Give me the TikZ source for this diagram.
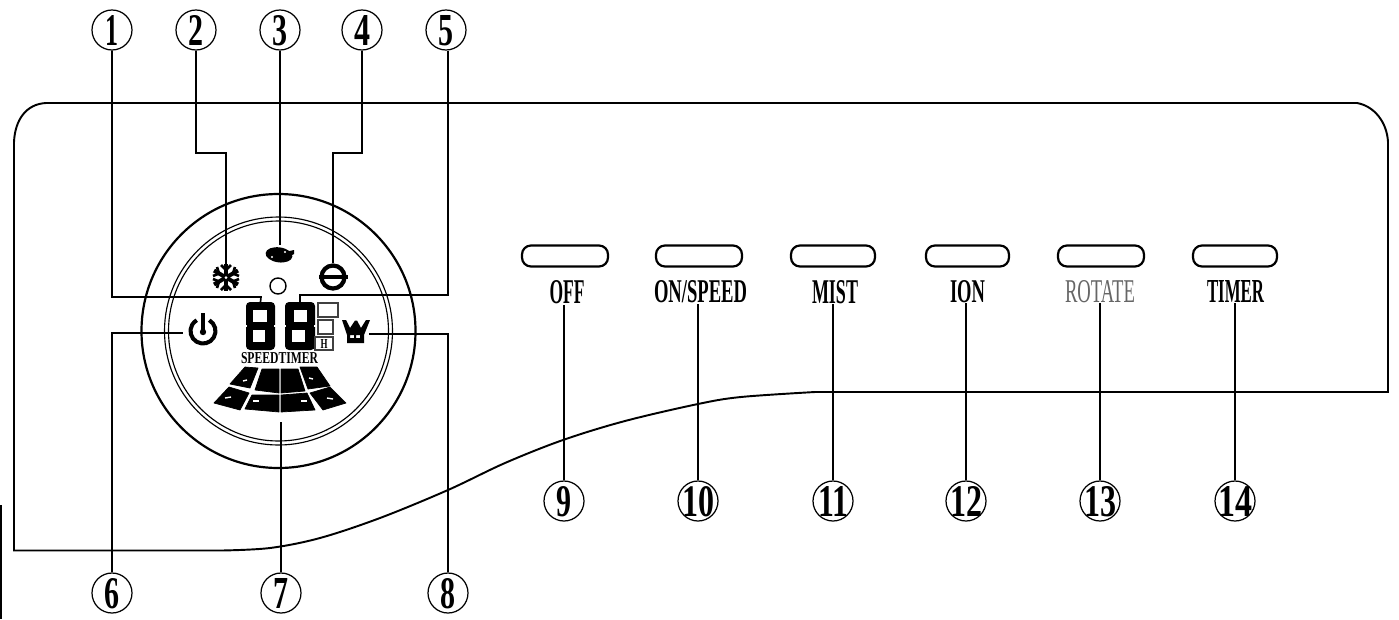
\documentclass[tikz,border=0pt]{standalone}
\usepackage{fontspec}
\setmainfont{Liberation Serif}
\usetikzlibrary{calc}
\newlength\pxu
\setlength\pxu{0.02cm}
\newcommand{\fitb}[3]{\resizebox{#1\pxu}{#2\pxu}{\bfseries #3}}
\newcommand{\fitr}[3]{\resizebox{#1\pxu}{#2\pxu}{#3}}
\newcommand{\cnum}[2]{\makebox[0pt][c]{\raisebox{-15\pxu}[0pt][0pt]{\resizebox{#1\pxu}{30\pxu}{\bfseries #2}}}}
\tikzset{
  panel/.style={line width=1.1pt,line join=miter},
  leader/.style={line width=0.95pt},
  numc/.style={circle,draw,line width=0.7pt,minimum size=40\pxu,inner sep=0pt},
  btn/.style={draw,line width=1.25pt,rounded corners=9\pxu,minimum height=21\pxu,inner sep=0pt},
  lbl/.style={inner sep=0pt},
  ghost/.style={inner sep=0pt,outer sep=0pt},
  seg/.style={rectangle,fill=black,rounded corners=4\pxu,minimum width=29\pxu,minimum height=48\pxu,inner sep=0pt,outer sep=0pt},
  hole/.style={fill=white},
  cell/.style={fill=black,draw=black,line width=0.4pt,line join=round},
  nick/.style={white,line width=0.8pt},
  lcdbox/.style={draw=black!75,line width=0.8pt},
  ringthick/.style={line width=1.25pt},
  ringthin/.style={line width=0.65pt}
}
\begin{document}
\begin{tikzpicture}[x=0.02cm,y=-0.02cm]
\useasboundingbox (0,0) rectangle (1399,619);
\fill[white] (0,0) rectangle (1399,619);
% black edge bar
\fill[black] (0,505) rectangle (2.2,619);
% panel
\draw[panel] (14,142) .. controls (15,120) and (26,104) .. (46,103) -- (1357,103)
  .. controls (1374,106) and (1387,122) .. (1388,142) -- (1388,392)
  -- plot[smooth,tension=0.55] coordinates {(815,392) (741,397) (698,404) (625,421) (563,440) (505,463) (448,490) (380,518) (320,538) (270,548) (222,550.5)}
  -- (14,550.5) -- cycle;
% dial
\coordinate (dial) at (278.5,331);
\draw[ringthick] (dial) circle (137);
\draw[ringthin] (dial) circle (114);
\draw[ringthin] (dial) circle (110);
% numbered circles
\node[numc] (c1) at (112,30) {\cnum{13}{1}};
\node[numc] (c2) at (196,30) {\cnum{15}{2}};
\node[numc] (c3) at (280,30) {\cnum{15}{3}};
\node[numc] (c4) at (362,30) {\cnum{16}{4}};
\node[numc] (c5) at (446,30) {\cnum{15}{5}};
\node[numc] (c6) at (112,593) {\cnum{15}{6}};
\node[numc] (c7) at (281,593) {\cnum{15}{7}};
\node[numc] (c8) at (448,593) {\cnum{15}{8}};
\node[numc] (c9) at (564,501) {\cnum{15}{9}};
\node[numc] (c10) at (698,501) {\cnum{32}{10}};
\node[numc] (c11) at (833,501) {\cnum{30}{11}};
\node[numc] (c12) at (966,501) {\cnum{32}{12}};
\node[numc] (c13) at (1100,501) {\cnum{32}{13}};
\node[numc] (c14) at (1235,501) {\cnum{34}{14}};
% buttons
\node[btn,minimum width=86\pxu] (b9) at (565,256) {};
\node[btn,minimum width=86\pxu] (b10) at (699,256) {};
\node[btn,minimum width=84\pxu] (b11) at (833,256) {};
\node[btn,minimum width=83\pxu] (b12) at (967.5,256) {};
\node[btn,minimum width=86\pxu] (b13) at (1101,256) {};
\node[btn,minimum width=84\pxu] (b14) at (1235,256) {};
% button labels
\node[lbl] (l9) at (567,292.5) {\fitb{35}{23}{OFF}};
\node[lbl] (l10) at (700.5,292) {\fitb{93}{22}{ON/SPEED}};
\node[lbl] (l11) at (835,292) {\fitb{46}{23}{MIST}};
\node[lbl] (l12) at (967.5,291.5) {\fitb{35}{22}{ION}};
\node[lbl,text=black!60] (l13) at (1100,291.5) {\fitr{70}{22}{ROTATE}};
\node[lbl] (l14) at (1235.5,291.5) {\fitb{57}{22}{TIMER}};
% LCD digits
\node[seg] (d1) at (260.5,326) {};
\node[seg,minimum width=30\pxu] (d2) at (300,326) {};
\fill[hole] (253,310) rectangle (267,322);
\fill[hole] (253,330) rectangle (265,342);
\fill[hole] (294,310) rectangle (307,322);
\fill[hole] (292,330) rectangle (305,342);
\fill[hole] (245,325) rectangle (247,327);
\fill[hole] (274,325) rectangle (276,327);
\fill[hole] (284,325) rectangle (286,327);
\fill[hole] (314,325) rectangle (316,327);
% small LCD boxes
\draw[lcdbox] (318,303) rectangle (338,317);
\draw[lcdbox] (318,320) rectangle (333,334);
\node[lcdbox,minimum width=18\pxu,minimum height=13\pxu,inner sep=0pt] (hbox) at (324,343.5) {\fitb{7}{9}{H}};
\node[lbl] (speedtimer) at (279.5,358.5) {\fitr{77}{11}{\bfseries SPEEDTIMER}};
% wedge cells
\fill[cell] (245,367) -- (258,368) -- (250,388) -- (230,384) -- cycle;
\fill[cell] (262,369) -- (279,369) -- (279,393) -- (255,390) -- cycle;
\fill[cell] (281,369) -- (298,369) -- (305,391) -- (281,393) -- cycle;
\fill[cell] (300,367) -- (317,367) -- (330,386) -- (308,389) -- cycle;
\fill[cell] (214,403) -- (229,387) -- (249,393) -- (240,410) -- cycle;
\fill[cell] (252,395) -- (279,395) -- (279,412) -- (245,409) -- cycle;
\fill[cell] (281,395) -- (307,393) -- (315,410) -- (281,412) -- cycle;
\fill[cell] (310,393) -- (330,387) -- (346,403) -- (323,410) -- cycle;
\draw[nick] (225,398) -- (231,397);
\draw[nick] (253,401) -- (259,401);
\draw[nick] (301,401) -- (307,401);
\draw[nick] (327,398) -- (333,399);
\draw[nick] (243,381) -- (247,380);
\draw[nick] (309,378) -- (313,379);
% icon: snowflake
\node[ghost,minimum size=28\pxu] (snow) at (226,277.5) {};
\begin{scope}[line width=2.3pt]
\draw (226,264) -- (226,291);
\draw (214,270.5) -- (238,284.5);
\draw (214,284.5) -- (238,270.5);
\end{scope}
\begin{scope}[line width=1.5pt]
\draw (221,265) -- (226,270) -- (231,265);
\draw (221,290) -- (226,285) -- (231,290);
\draw (213,276) -- (219,273.5) -- (217,267);
\draw (239,276) -- (233,273.5) -- (235,267);
\draw (213,279) -- (219,281.5) -- (217,288);
\draw (239,279) -- (233,281.5) -- (235,288);
\end{scope}
\fill[white] (226,277.5) circle (1.5);
% icon: blob
\node[ghost,minimum width=29\pxu,minimum height=20\pxu] (blob) at (280,255) {};
\fill[black,rotate around={-8:(280,255)}] (279,255) ellipse (13.5 and 7.5);
\fill[black] (285,252) -- (294,250) -- (294,254) -- (287,258) -- cycle;
\fill[white] (272,257) circle (1.2);
\fill[white] (285,252) circle (1.2);
% small hexagon
\node[ghost,draw,line width=0.8pt,circle,minimum size=16\pxu] (hexa) at (278,286) {};
% icon: minus in circle
\node[ghost,minimum size=28\pxu] (minusc) at (333,277) {};
\draw[line width=2.4pt] (333,277) circle (11.5);
\draw[line width=2.6pt] (319,277) -- (348,277);
% icon: power
\node[ghost,minimum size=40\pxu] (pwr) at (203,333) {};
\draw[line width=2.3pt] (209.25,320.2) arc[start angle=-60,end angle=240,radius=12.5];
\draw[line width=2.3pt] (203,313) -- (203,331);
\fill[black] (203,332) circle (3.2);
% icon: crown
\node[ghost,minimum width=27\pxu,minimum height=25\pxu] (crown) at (355.5,334) {};
\fill[black,even odd rule] (342,320) -- (346,320) -- (350,328) -- (355,320.5) -- (357,320.5) -- (361,328) -- (366,320) -- (370,320)
  -- (364,335) -- (364,343) -- (347,343) -- (347,335) -- cycle
  (350,335) rectangle (354,338) (356,335) rectangle (360,338);
% leaders
\coordinate (t1) at (261,297);
\coordinate (t5) at (300,295);
\coordinate (t7) at (281,422);
\draw[leader] (c1.south) |- (t1) -- (d1.north);
\draw[leader] (c2.south) -- (c2.south |- 0,153) -| (snow.north);
\draw[leader] (c3.south) -- (blob.north);
\draw[leader] (c4.south) -- (c4.south |- 0,153) -| (minusc.north);
\draw[leader] ([xshift=2\pxu]c5.south) |- (t5) -- (d2.north);
\draw[leader] (c6.north) |- (pwr.west);
\draw[leader] (c7.north) -- (t7);
\draw[leader] (c8.north) |- (crown.east);
\draw[leader] (c9.north) -- (c9.north |- l9.south);
\draw[leader] (c10.north) -- (c10.north |- l10.south);
\draw[leader] (c11.north) -- (c11.north |- l11.south);
\draw[leader] (c12.north) -- (c12.north |- l12.south);
\draw[leader] (c13.north) -- (c13.north |- l13.south);
\draw[leader] (c14.north) -- (c14.north |- l14.south);
\end{tikzpicture}
\end{document}
